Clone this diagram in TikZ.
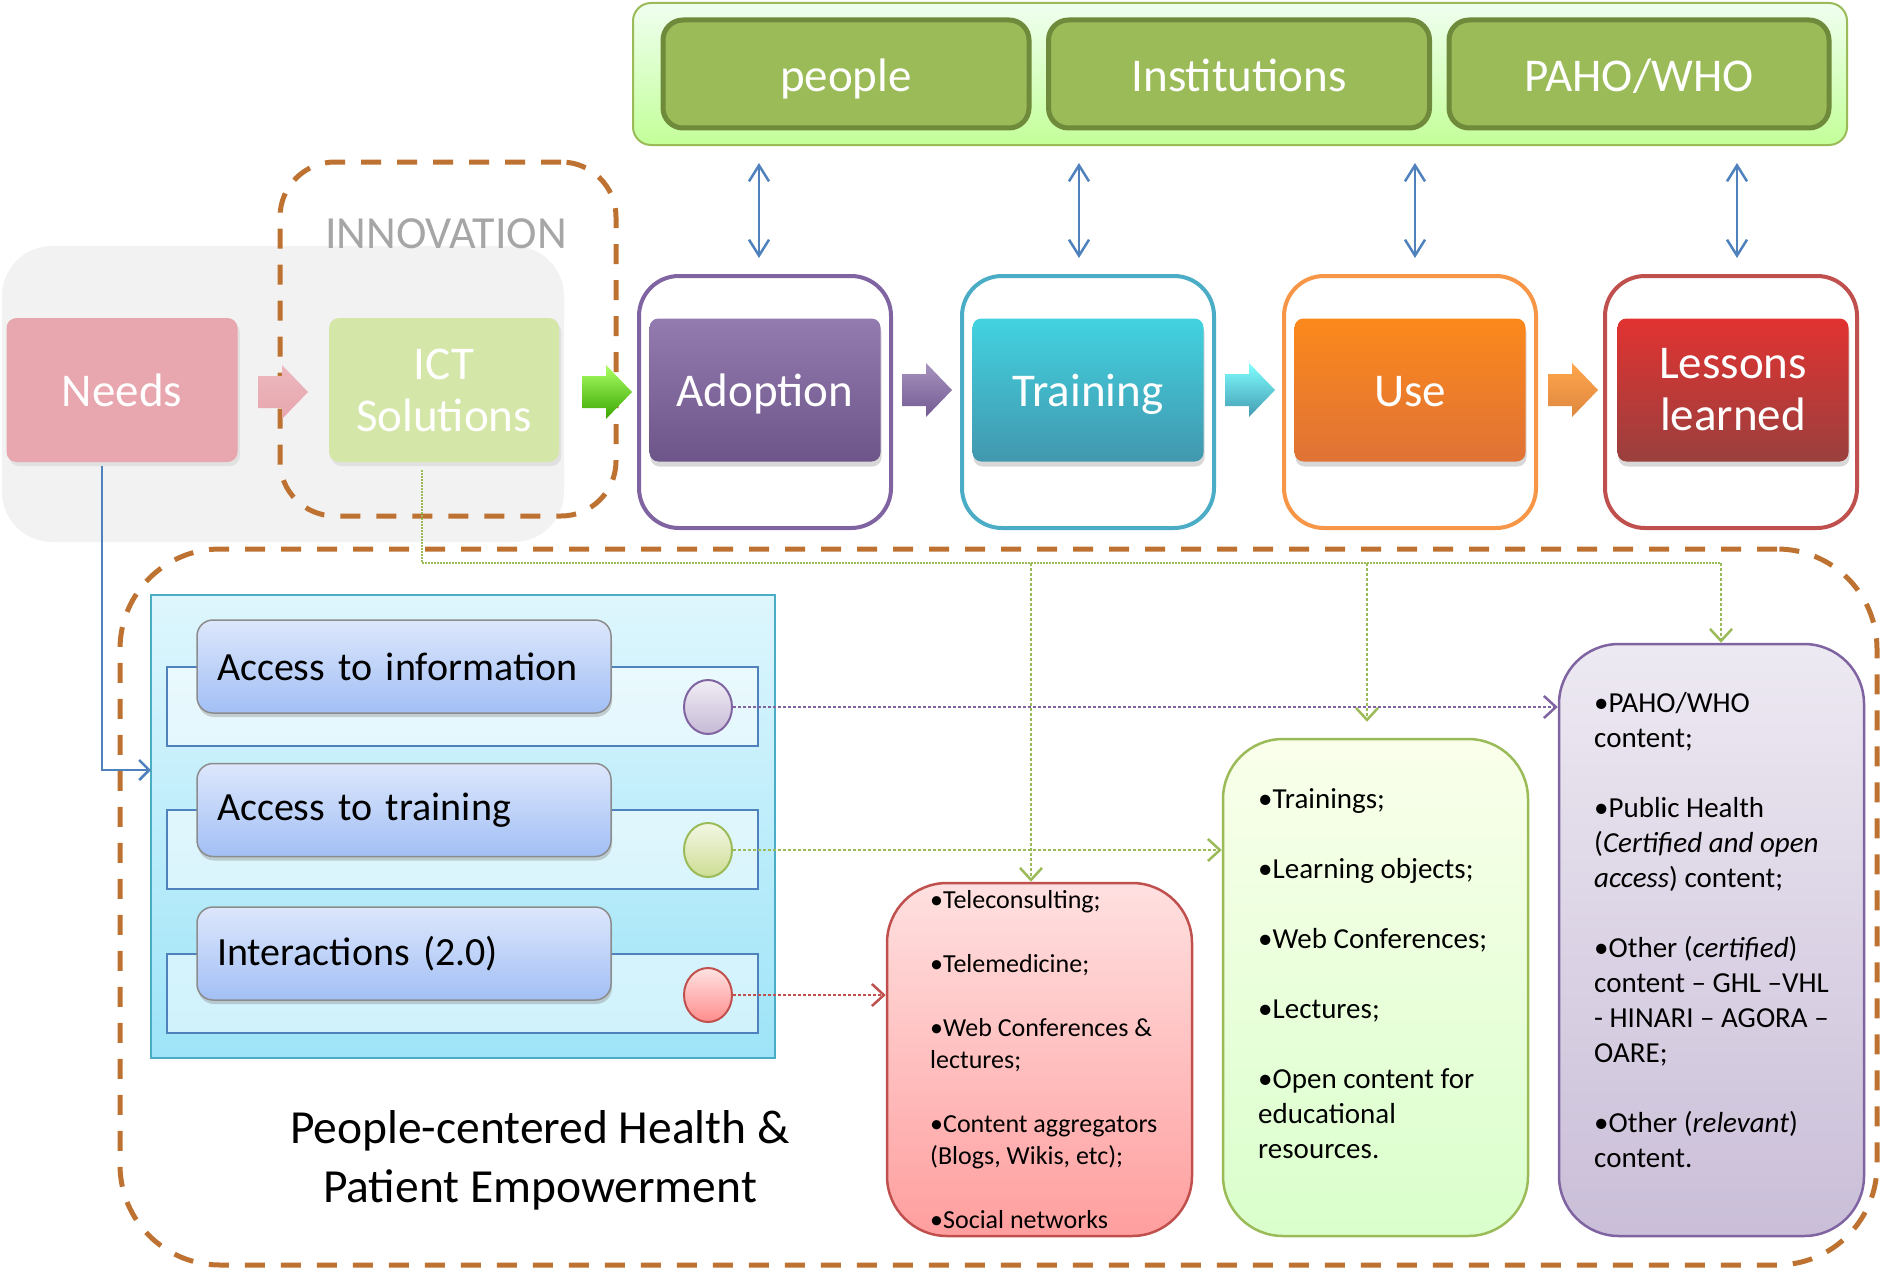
\documentclass[tikz,border=0pt]{standalone}
\usepackage{fontspec}
\setmainfont{Carlito}
\usetikzlibrary{shapes.geometric,arrows.meta,shadows,calc}

\definecolor{brownD}{HTML}{BE7232}
\definecolor{blueL}{HTML}{4F81BD}
\definecolor{greenL}{HTML}{9BBB59}
\definecolor{greenD}{HTML}{6F8A3A}
\definecolor{purpL}{HTML}{8064A2}
\definecolor{cyanL}{HTML}{4BACC6}
\definecolor{orangeL}{HTML}{F79646}
\definecolor{redL}{HTML}{C0504D}
\definecolor{needsC}{HTML}{E8A6AE}
\definecolor{ictC}{HTML}{D4E6A8}
\definecolor{btnTop}{HTML}{DDE7FC}
\definecolor{btnBot}{HTML}{A2BFF5}
\definecolor{panTop}{HTML}{DEF6FD}
\definecolor{panBot}{HTML}{9EE4F8}

\newcommand{\fbig}{\fontsize{47}{52}\selectfont}
\newcommand{\blockarr}[4]{\shade[top color=#3, bottom color=#4] (#1,#2) ++(0,-16) -- ++(24,0) -- ++(0,-11) -- ++(26,27) -- ++(-26,27) -- ++(0,-11) -- ++(-24,0) -- cycle;}

\begin{document}
\begin{tikzpicture}[x=1pt,y=-1pt,
  outerbox/.style={draw=#1, line width=4pt, rounded corners=40pt, fill=white, minimum width=252pt, minimum height=252pt, inner sep=0pt},
  stage/.style 2 args={rounded corners=9pt, minimum width=231pt, minimum height=143pt, top color=#1, bottom color=#2, text=white, font=\fbig, align=center, inner sep=0pt, drop shadow={shadow xshift=1pt, shadow yshift=-5pt, opacity=0.3}},
  oneline/.style={text height=42pt, text depth=10pt},
  bannerbox/.style={fill=greenL, draw=greenD, line width=5pt, rounded corners=20pt, minimum height=108pt, text=white, font=\fbig, inner sep=0pt, text height=40pt, text depth=4pt},
  rowbox/.style={draw=blueL, line width=2.5pt, fill=white, fill opacity=0.5, minimum width=591pt, minimum height=79pt, inner sep=0pt},
  btn/.style={draw=black!45, line width=1.5pt, rounded corners=16pt, top color=btnTop, bottom color=btnBot, minimum width=414pt, minimum height=93pt, text width=374pt, inner xsep=20pt, inner ysep=0pt, align=left, font=\fontsize{40}{46}\selectfont, drop shadow={shadow xshift=1pt, shadow yshift=-4pt, opacity=0.35}},
  circ/.style 2 args={ellipse, draw=#1, line width=2pt, top color=#2!25!white, bottom color=#2, minimum width=48pt, minimum height=54pt, inner sep=0pt},
  listbox/.style={line width=2.5pt, rounded corners=60pt, inner sep=0pt},
  dbl/.style={draw=blueL, line width=2.5pt, {Straight Barb[length=16pt,width=20pt]}-{Straight Barb[length=16pt,width=20pt]}},
  gdot/.style={draw=greenL, line width=2.5pt, dash pattern=on 2.5pt off 2.5pt},
  thin gdot/.style={draw=greenL, line width=1.2pt, dash pattern=on 1.5pt off 1.5pt},
  vtip/.style={-{Straight Barb[length=12pt,width=22pt]}},
]
\useasboundingbox (0,0) rectangle (1881,1271);

% ---------- left grey background and innovation group ----------
\node[fill=black!5, rounded corners=50pt, minimum width=562pt, minimum height=296pt, inner sep=0pt] (greybg) at (283,394) {};
\node[draw=brownD, line width=5pt, dash pattern=on 20pt off 16pt, rounded corners=55pt, minimum width=336pt, minimum height=354pt, inner sep=0pt] (innov) at (448,339) {};
\node[text=black!35, font=\fontsize{46}{50}\selectfont, inner sep=0pt] (innovtxt) at (446,234) {INNOVATION};

\node[fill=needsC, rounded corners=10pt, minimum width=231pt, minimum height=144pt, text=white, font=\fbig, inner sep=0pt, drop shadow={shadow yshift=-4pt, opacity=0.15}] (needs) at (122,390) {Needs};
\node[fill=ictC, rounded corners=10pt, minimum width=230pt, minimum height=144pt, text=white, font=\fbig, align=center, inner sep=0pt, drop shadow={shadow yshift=-4pt, opacity=0.15}] (ict) at (444,390) {ICT\\Solutions};

% ---------- banner ----------
\node[draw=greenL, line width=2pt, rounded corners=18pt, top color=green!6!white, bottom color=lime!55!green!40!white, minimum width=1214pt, minimum height=142pt, inner sep=0pt] (banner) at (1240,74) {};
\node[bannerbox, minimum width=366pt] (people) at (846,74) {people};
\node[bannerbox, minimum width=381pt] (inst) at (1239,74) {Institutions};
\node[bannerbox, minimum width=380pt] (paho) at (1639,74) {PAHO/WHO};

% ---------- stage boxes ----------
\node[outerbox=purpL] (adoptO) at (765,402) {};
\node[outerbox=cyanL] (trainO) at (1088,402) {};
\node[outerbox=orangeL] (useO) at (1410,402) {};
\node[outerbox=redL] (lessO) at (1731,402) {};

\node[stage={purpL!85!white}{purpL!85!black}, oneline] (adopt) at (765,390) {Adoption};
\node[stage={cyan!40!cyanL!90!white}{cyanL!88!black}, oneline] (train) at (1088,390) {Training};
\node[stage={orange!60!orangeL}{orangeL!85!red!90!black}, oneline] (use) at (1410,390) {Use};
\node[stage={red!50!redL!95!white}{redL!80!black}] (less) at (1733,390) {Lessons\\learned};

% block arrows
\blockarr{258}{392}{needsC!80!white}{needsC}
\blockarr{582}{392}{green!40!lime!60!white}{green!50!black!70!lime}
\blockarr{902}{390}{purpL!70!white}{purpL!90!black}
\blockarr{1225}{390}{cyan!50!white}{cyanL!90!black}
\blockarr{1548}{390}{orange!70!white}{orangeL!90!black}

% double arrows
\coordinate (u1) at (759,163);
\coordinate (u2) at (1079,163);
\coordinate (u3) at (1415,163);
\coordinate (u4) at (1737,163);
\draw[dbl, shorten >=16pt] (u1) -- (u1 |- adoptO.north);
\draw[dbl, shorten >=16pt] (u2) -- (u2 |- trainO.north);
\draw[dbl, shorten >=16pt] (u3) -- (u3 |- useO.north);
\draw[dbl, shorten >=16pt] (u4) -- (u4 |- lessO.north);

% ---------- lower big group ----------
\node[draw=brownD, line width=5pt, dash pattern=on 20pt off 16pt, rounded corners=100pt, minimum width=1757pt, minimum height=716pt, inner sep=0pt] (pcgroup) at (998.5,907) {};

\node[draw=cyanL, line width=2pt, top color=panTop, bottom color=panBot, minimum width=624pt, minimum height=463pt, inner sep=0pt] (panel) at (463,826.5) {};

\node[rowbox] (r1) at (462.5,706.5) {};
\node[rowbox] (r2) at (462.5,849.5) {};
\node[rowbox] (r3) at (462.5,993.5) {};
\node[btn] (b1) at (404,666.5) {Access to information};
\node[btn] (b2) at (404,810) {Access to training};
\node[btn] (b3) at (404,953.5) {Interactions (2.0)};

\node[circ={purpL}{purpL!45!white}] (c1) at (708,707) {};
\node[circ={greenL}{greenL!55!white!90!yellow}] (c2) at (708,850) {};
\node[circ={redL}{red!45!white}] (c3) at (708,995) {};

\node[align=center, font=\fontsize{47.5}{59}\selectfont, inner sep=0pt] (pctxt) at (540,1160) {People-centered Health \&\\Patient Empowerment};

% list boxes
\node[listbox, draw=redL, top color=red!12!white, bottom color=red!38!white, minimum width=305pt, minimum height=353pt] (redb) at (1039.5,1059.5) {};
\node[listbox, draw=greenL, top color=lime!8!white, bottom color=lime!35!green!20!white, minimum width=305pt, minimum height=497pt] (grnb) at (1375.5,987.5) {};
\node[listbox, draw=purpL, top color=purpL!14!white, bottom color=purpL!42!white, minimum width=305pt, minimum height=592pt] (purb) at (1711.5,940) {};

\node[anchor=north west, align=left, inner sep=0pt, font=\fontsize{26}{32}\selectfont] (redtxt) at (930,890) {\textbullet Teleconsulting;\\[32pt]\textbullet Telemedicine;\\[32pt]\textbullet Web Conferences \&\\lectures;\\[32pt]\textbullet Content aggregators\\(Blogs, Wikis, etc);\\[32pt]\textbullet Social networks};
\node[anchor=north west, align=left, inner sep=0pt, font=\fontsize{29}{35}\selectfont] (grntxt) at (1258,788) {\textbullet Trainings;\\[35pt]\textbullet Learning objects;\\[35pt]\textbullet Web Conferences;\\[35pt]\textbullet Lectures;\\[35pt]\textbullet Open content for\\educational\\resources.};
\node[anchor=north west, align=left, inner sep=0pt, font=\fontsize{29}{35}\selectfont] (purtxt) at (1594,692) {\textbullet PAHO/WHO\\content;\\[35pt]\textbullet Public Health\\(\textit{Certified and open}\\\textit{access}) content;\\[35pt]\textbullet Other (\textit{certified})\\content – GHL –VHL\\- HINARI – AGORA –\\OARE;\\[35pt]\textbullet Other (\textit{relevant})\\content.};

% ---------- connectors ----------
\coordinate (pin) at (151,770);
\draw[blueL, line width=2.5pt, -{Straight Barb[length=10pt,width=20pt]}, shorten <=4pt] ([xshift=-20pt]needs.south) |- (pin);

\coordinate (j1) at (1031,563);
\coordinate (j2) at (1367,563);
\coordinate (j3) at (1721,563);
\draw[thin gdot, shorten <=8pt] ([xshift=-22pt]ict.south) |- (j3);
\draw[gdot, vtip] (j1) -- (j1 |- redb.north);
\draw[gdot, vtip, shorten >=16pt] (j2) -- (j2 |- grnb.north);
\draw[gdot, vtip] (j3) -- (j3 |- purb.north);

\draw[draw=purpL, line width=2.5pt, dash pattern=on 2.5pt off 2.5pt, vtip] (c1.east) -- (c1.east -| purb.west);
\draw[gdot, vtip] (c2.east) -- (c2.east -| grnb.west);
\draw[draw=redL, line width=2.5pt, dash pattern=on 2.5pt off 2.5pt, vtip] (c3.east) -- (c3.east -| redb.west);
\end{tikzpicture}
\end{document}
